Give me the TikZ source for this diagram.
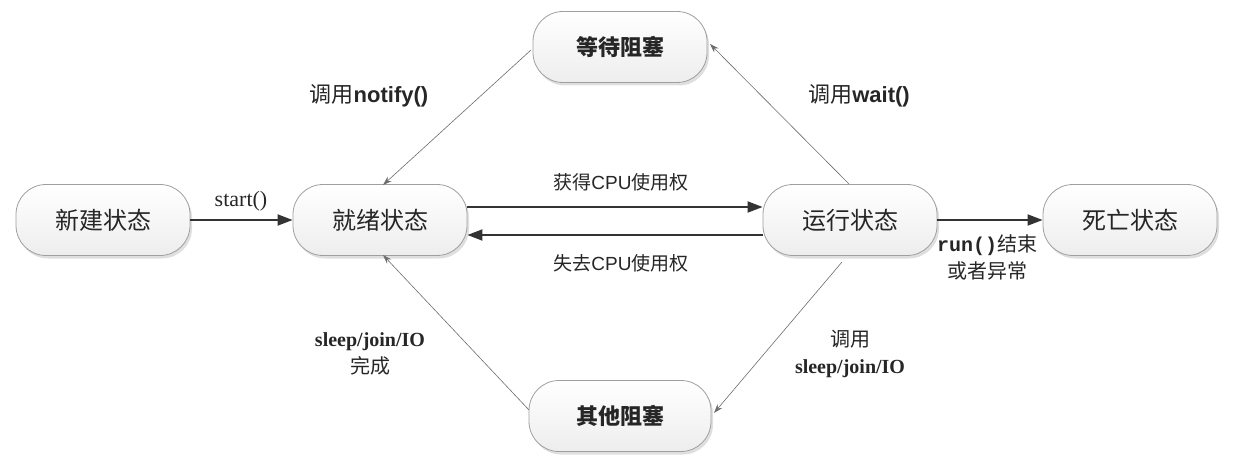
\documentclass[tikz,border=0pt]{standalone}
\usepackage{fontspec}
\setmainfont{Liberation Serif}
\newfontfamily\cjk{Noto Sans CJK SC}
\newfontfamily\lsans{Liberation Sans}
\newfontfamily\lmono{Liberation Mono}
\usetikzlibrary{arrows.meta,shadows}
\begin{document}
\begin{tikzpicture}[x=1pt,y=-1pt,
  state/.style={draw=gray!75, line width=0.8pt, rounded corners=30pt,
    minimum width=174pt, minimum height=71pt, top color=white, bottom color=gray!14,
    drop shadow={opacity=0.25, shadow xshift=2pt, shadow yshift=-3pt},
    font=\cjk\fontsize{24}{27}\selectfont, text=black!85},
  bstate/.style={state, font=\cjk\bfseries\fontsize{22}{25}\selectfont},
  thick arrow/.style={draw=black!80, line width=1.8pt, -{Triangle[length=15pt,width=11pt]}},
  thin arrow/.style={draw=gray!85!black, line width=0.6pt, -{Stealth[length=9pt,width=6pt]}},
  lbl/.style={text=black!85, align=center, inner sep=0pt}
]
\useasboundingbox (0,0) rectangle (1242,465);
\node[state] (new) at (103,220) {新建状态};
\node[state] (ready) at (380,220) {就绪状态};
\node[state] (run) at (850,220) {运行状态};
\node[state] (dead) at (1130,220) {死亡状态};
\node[bstate] (wait) at (620,47) {等待阻塞};
\node[bstate, minimum width=182pt] (other) at (620,416) {其他阻塞};

\draw[thick arrow] (new.east) -- (ready.west);
\draw[thick arrow] ([yshift=13pt]ready.east) -- ([yshift=13pt]run.west);
\draw[thick arrow] ([yshift=-15pt]run.west) -- ([yshift=-15pt]ready.east);
\draw[thick arrow] (run.east) -- (dead.west);

\coordinate (waitE) at (710,44);
\coordinate (waitW) at (531,50);
\coordinate (readyT) at (383,185);
\coordinate (readyB) at (383,255);
\coordinate (runT) at (849,184);
\coordinate (runB) at (842,262);
\coordinate (otherE) at (714,413);
\coordinate (otherW) at (529,410);
\draw[thin arrow] (waitW) -- (readyT);
\draw[thin arrow] (runT) -- (waitE);
\draw[thin arrow] (runB) -- (otherE);
\draw[thin arrow] (otherW) -- (readyB);

\node[lbl, font=\fontsize{22}{24}\selectfont] (l1) at (241,201) {start()};
\node[lbl, font=\fontsize{19}{22}\selectfont] (l2) at (621,182) {{\cjk 获得}{\lsans CPU}{\cjk 使用权}};
\node[lbl, font=\fontsize{19}{22}\selectfont] (l3) at (621,263) {{\cjk 失去}{\lsans CPU}{\cjk 使用权}};
\node[lbl, font=\fontsize{22}{24}\selectfont] (l4) at (369,96) {{\cjk 调用}{\lsans\bfseries notify()}};
\node[lbl, font=\fontsize{22}{24}\selectfont] (l5) at (859,96) {{\cjk 调用}{\lsans\bfseries wait()}};
\node[lbl, font=\fontsize{20}{27}\selectfont] (l6) at (987,257) {{\lmono\bfseries run()}{\cjk 结束}\\{\cjk 或者异常}};
\node[lbl, font=\fontsize{20}{27}\selectfont] (l7) at (370,354) {\textbf{sleep/join/IO}\\{\cjk 完成}};
\node[lbl, font=\fontsize{20}{27}\selectfont] (l8) at (850,354) {{\cjk 调用}\\\textbf{sleep/join/IO}};
\end{tikzpicture}
\end{document}
